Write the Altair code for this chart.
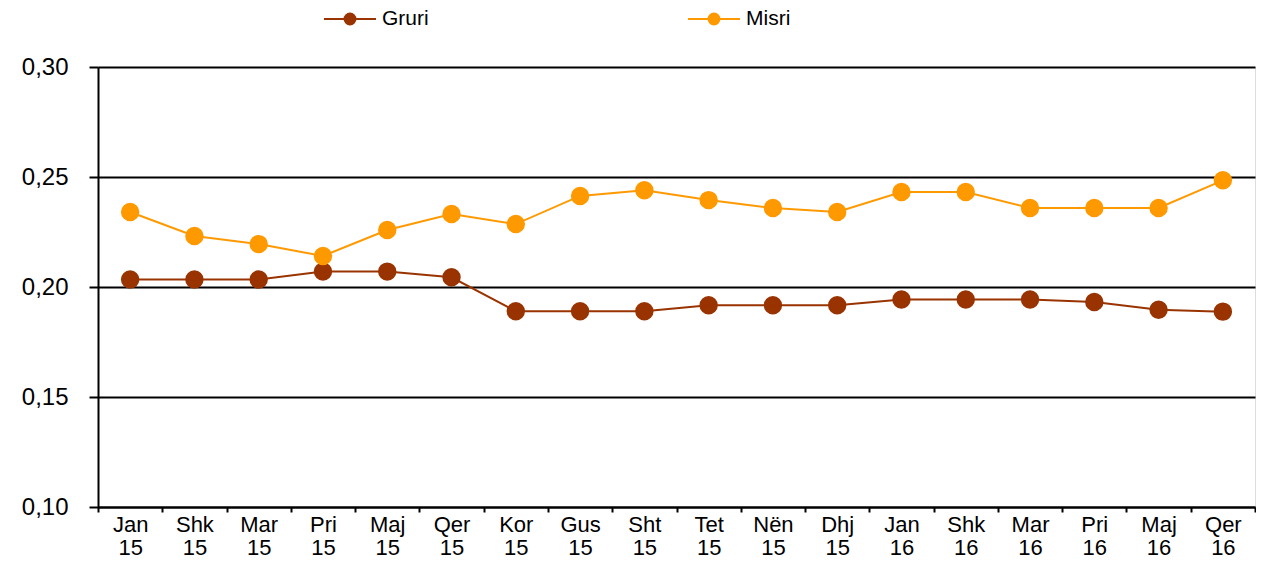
import altair as alt
import pandas as pd

months = ["Jan 15", "Shk 15", "Mar 15", "Pri 15", "Maj 15", "Qer 15", "Kor 15", "Gus 15", "Sht 15",
          "Tet 15", "Nën 15", "Dhj 15", "Jan 16", "Shk 16", "Mar 16", "Pri 16", "Maj 16", "Qer 16"]
gruri = [0.2034, 0.2034, 0.2034, 0.2070, 0.2070, 0.2044, 0.1890, 0.1890, 0.1890,
         0.1917, 0.1917, 0.1917, 0.1943, 0.1943, 0.1943, 0.1932, 0.1897, 0.1888]
misri = [0.2341, 0.2232, 0.2195, 0.2141, 0.2259, 0.2332, 0.2286, 0.2414, 0.2440,
         0.2395, 0.2359, 0.2341, 0.2432, 0.2432, 0.2359, 0.2359, 0.2359, 0.2485]
series = ["Gruri", "Misri"]
colors = ["#993300", "#FF9900"]
y_ticks = [0.10, 0.15, 0.20, 0.25, 0.30]

rows = []
for m, g, s in zip(months, gruri, misri):
    rows.append({"month": m, "series": "Gruri", "value": g})
    rows.append({"month": m, "series": "Misri", "value": s})
df = pd.DataFrame(rows)

FONT = "Liberation Sans"

legend_path = ("M-1,0L1,0M0.21,0A0.21,0.21,0,1,1,-0.21,0A0.21,0.21,0,1,1,0.21,0Z")

x_enc = alt.X(
    "month:N", sort=months, title=None,
    scale=alt.Scale(type="band", paddingInner=0, paddingOuter=0),
    axis=alt.Axis(
        labelExpr="split(datum.label, ' ')", labelAngle=0, labelFont=FONT, labelFontSize=22,
        labelColor="#000000", labelLineHeight=23, labelPadding=2,
        tickBand="extent", tickSize=5, tickWidth=2, tickColor="#000000",
        domainColor="#000000", domainWidth=2, grid=False,
    ),
)
y_enc = alt.Y(
    "value:Q", title=None,
    scale=alt.Scale(domain=[0.10, 0.30], nice=False, zero=False),
    axis=alt.Axis(
        values=y_ticks, labelExpr="replace(format(datum.value, '.2f'), '.', ',')",
        labelFont=FONT, labelFontSize=24, labelColor="#000000", labelPadding=21,
        tickSize=9, tickWidth=2, tickColor="#000000",
        domainColor="#000000", domainWidth=2,
        grid=True, gridColor="#000000", gridWidth=2,
    ),
)
color_enc = alt.Color(
    "series:N", scale=alt.Scale(domain=series, range=colors),
    legend=alt.Legend(
        title=None, orient="none", direction="horizontal", legendX=225, legendY=-75,
        symbolType=legend_path, symbolSize=2704, symbolStrokeWidth=2, symbolOpacity=1,
        labelFont=FONT, labelFontSize=21, labelColor="#000000", labelOffset=5,
        columnPadding=255,
    ),
)

points = alt.Chart(df).mark_point(filled=True, size=270, opacity=1).encode(
    x=x_enc, y=y_enc, color=color_enc, stroke=alt.Stroke("series:N", scale=alt.Scale(domain=series, range=colors), legend=None)
)
lines = alt.Chart(df).mark_line(strokeWidth=2).encode(
    x=x_enc, y=y_enc, color=color_enc
)

chart = alt.layer(points, lines).properties(
    width=1157, height=440,
    autosize=alt.AutoSizeParams(type="none"),
    padding={"left": 90, "top": 59, "right": 1, "bottom": 52},
).configure_view(stroke=None).configure(background="#ffffff")

chart.save("out.html", embed_options={"renderer": "svg", "actions": False})
